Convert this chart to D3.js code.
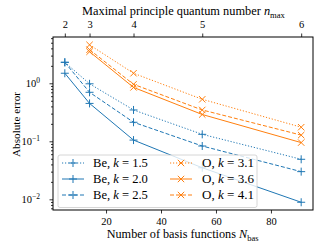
<!DOCTYPE html>
<html><head><meta charset="utf-8">
<script src="https://cdn.jsdelivr.net/npm/d3@7"></script>
<style>body{margin:0;background:#fff;} svg{display:block;}</style>
</head><body>
<svg id="c" width="325" height="250"></svg>
<script>
const nbas = [5, 14, 30, 55, 91];
const nmax = [2, 3, 4, 5, 6];
const xTicks = [20, 40, 60, 80];
const yTicks = [-2, -1, 0];
const beK15 = [2.3, 0.98, 0.347, 0.132, 0.049];
const beK20 = [1.49, 0.45, 0.105, 0.035, 0.0089];
const beK25 = [2.3, 0.70, 0.213, 0.083, 0.030];
const oK31 = [null, 4.6, 1.49, 0.53, 0.175];
const oK36 = [null, 3.5, 0.85, 0.29, 0.095];
const oK41 = [null, 3.8, 0.96, 0.347, 0.128];

const FONT = "'Liberation Serif'";
const blue = "#1f77b4", orange = "#ff7f0e";
const series = [
  {el:"Be", k:"1.5", v:beK15, c:blue, dash:"1.2,1.8", m:"+"},
  {el:"Be", k:"2.0", v:beK20, c:blue, dash:null, m:"+"},
  {el:"Be", k:"2.5", v:beK25, c:blue, dash:"4,2", m:"+"},
  {el:"O", k:"3.1", v:oK31, c:orange, dash:"1.2,1.8", m:"x"},
  {el:"O", k:"3.6", v:oK36, c:orange, dash:null, m:"x"},
  {el:"O", k:"4.1", v:oK41, c:orange, dash:"4,2", m:"x"},
];

const L=53, R=313, T=37, B=210;
const svg = d3.select("#c");
const x = d3.scaleLinear().domain([0.7, 95.3]).range([L, R]);
const y = d3.scaleLog().domain([Math.pow(10,-2.184), Math.pow(10,0.798)]).range([B, T]);

function fit(sel, w){ // scale font so that rendered width matches target
  sel.style("font-family",FONT);
  const n = sel.node(); const fs = +sel.attr("font-size");
  const cur = n.getComputedTextLength();
  if(cur>0){ const k = w/cur; sel.attr("font-size",fs*k); sel.selectAll("tspan").each(function(){const t=d3.select(this); if(t.attr("font-size")) t.attr("font-size",+t.attr("font-size")*k); if(t.attr("dy")) t.attr("dy",+t.attr("dy")*k);}); }
}

// ticks
const gb = svg.append("g").attr("transform",`translate(0,${B})`)
  .call(d3.axisBottom(x).tickValues(xTicks).tickSize(3.5).tickPadding(5).tickFormat(d3.format("d")));
const gt = svg.append("g").attr("transform",`translate(0,${T})`)
  .call(d3.axisTop(x).tickValues(nbas).tickSize(3.5).tickPadding(5).tickFormat((d,i)=>nmax[i]));
const gl = svg.append("g").attr("transform",`translate(${L},0)`)
  .call(d3.axisLeft(y).tickValues(yTicks.map(e=>Math.pow(10,e))).tickSize(3.5).tickFormat(""));
const minors=[];
for (let e=-3;e<=0;e++) for (let m=2;m<=9;m++){const v=m*Math.pow(10,e); if(v>=y.domain()[0]&&v<=y.domain()[1]) minors.push(v);}
svg.append("g").attr("transform",`translate(${L},0)`)
  .call(d3.axisLeft(y).tickValues(minors).tickSize(2).tickFormat(""));
svg.selectAll(".domain").remove();
svg.selectAll(".tick line").attr("stroke","#000").attr("stroke-width",0.8);
svg.selectAll(".tick text").attr("font-size",10.5).attr("fill","#000").style("font-family",FONT);
gb.selectAll(".tick text").attr("dy",null).attr("y",null).attr("transform",null).each(function(){d3.select(this).attr("y",15);});
gt.selectAll(".tick text").attr("dy",null).attr("y",-9.5);

yTicks.forEach(e=>{
  const t = svg.append("text").attr("x",40).attr("y",y(Math.pow(10,e))+3.8).attr("text-anchor","end").attr("font-size",10.5);
  t.append("tspan").text("10");
  t.append("tspan").attr("dy",-4.5).attr("font-size",7.5).text(e<0?"\u2212"+(-e):String(e));
});

const line = d3.line().defined(d=>d[1]!=null).x(d=>x(d[0])).y(d=>y(d[1]));
const plot = svg.append("g");
function marker(g, m, cx, cy, c){
  const s=4;
  if(m==="+"){
    g.append("path").attr("d",`M${cx-s},${cy}H${cx+s}M${cx},${cy-s}V${cy+s}`).attr("stroke",c).attr("stroke-width",1).attr("fill","none");
  } else {
    const a=3.2;
    g.append("path").attr("d",`M${cx-a},${cy-a}L${cx+a},${cy+a}M${cx-a},${cy+a}L${cx+a},${cy-a}`).attr("stroke",c).attr("stroke-width",1).attr("fill","none");
  }
}
series.forEach(s=>{
  const pts = nbas.map((n,i)=>[n,s.v[i]]);
  plot.append("path").datum(pts).attr("d",line).attr("fill","none").attr("stroke",s.c).attr("stroke-width",1)
    .attr("stroke-dasharray",s.dash);
  pts.filter(p=>p[1]!=null).forEach(p=>marker(plot,s.m,x(p[0]),y(p[1]),s.c));
});

svg.append("rect").attr("x",L).attr("y",T).attr("width",R-L).attr("height",B-T).attr("fill","none").attr("stroke","#000").attr("stroke-width",1);

const lg = svg.append("g");
lg.append("rect").attr("x",58).attr("y",155).attr("width",199).attr("height",52.5).attr("rx",2).attr("ry",2)
  .attr("fill","#fff").attr("fill-opacity",0.8).attr("stroke","#ccc").attr("stroke-width",0.8);
series.forEach((s,i)=>{
  const col = i<3?0:1, row=i%3;
  const hx0 = col===0?62:170, hx1 = hx0+22, ty = 163+row*16;
  lg.append("line").attr("x1",hx0).attr("x2",hx1).attr("y1",ty).attr("y2",ty).attr("stroke",s.c).attr("stroke-width",1).attr("stroke-dasharray",s.dash);
  marker(lg,s.m,(hx0+hx1)/2,ty,s.c);
  const t = lg.append("text").attr("x",col===0?93:202).attr("y",ty+3.8).attr("font-size",11);
  t.append("tspan").text(s.el+", ");
  t.append("tspan").attr("font-style","italic").text("k");
  t.append("tspan").text(" = "+s.k);
  fit(t, col===0?55:52);
});

const xl = svg.append("text").attr("x",106.7).attr("y",238).attr("font-size",11.5);
xl.append("tspan").text("Number of basis functions ");
xl.append("tspan").attr("font-style","italic").text("N");
xl.append("tspan").attr("dy",2.5).attr("font-size",8).text("bas");
fit(xl,152);
const tl = svg.append("text").attr("x",82).attr("y",15).attr("font-size",11.5);
tl.append("tspan").text("Maximal principle quantum number ");
tl.append("tspan").attr("font-style","italic").text("n");
tl.append("tspan").attr("dy",2.5).attr("font-size",8).text("max");
fit(tl,203);
const yl = svg.append("text").attr("transform",`translate(20,124.5) rotate(-90)`).attr("text-anchor","middle").attr("font-size",11.5).text("Absolute error");
fit(yl,65);

svg.selectAll("text").style("font-family",FONT).attr("fill","#000");
</script>
</body></html>
